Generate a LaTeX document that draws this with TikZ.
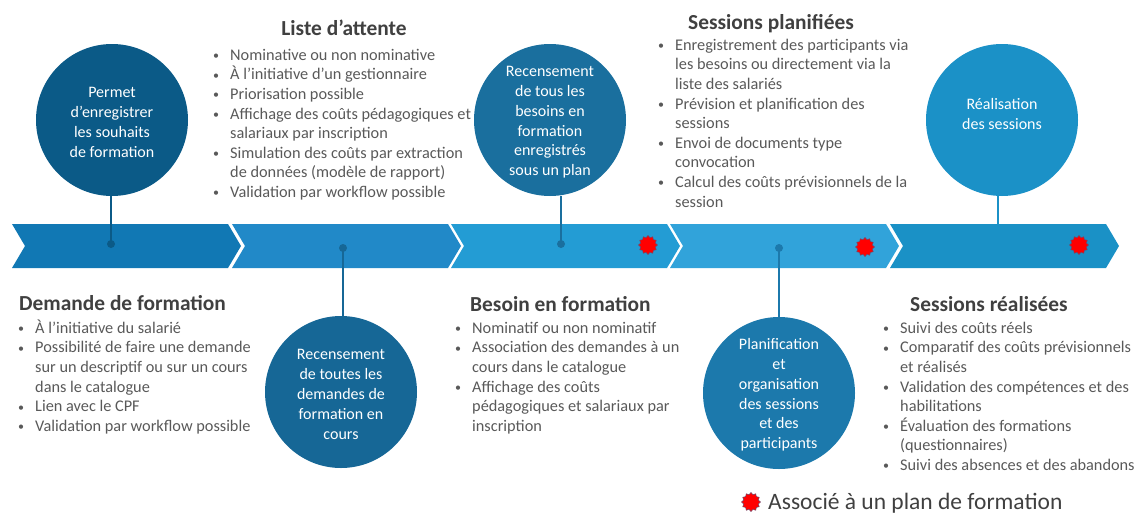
\documentclass[tikz,border=0pt]{standalone}
\usepackage{fontspec}
\setmainfont{Carlito}
\usetikzlibrary{positioning, shapes.geometric}

\definecolor{cSEGa}{HTML}{1178B4}
\definecolor{cSEGb}{HTML}{2189C8}
\definecolor{cSEGc}{HTML}{239CD4}
\definecolor{cSEGd}{HTML}{31A3DA}
\definecolor{cSEGe}{HTML}{1A91C6}
\definecolor{cBUBa}{HTML}{0B5A87}
\definecolor{cBUBb}{HTML}{166796}
\definecolor{cBUBc}{HTML}{1A6F9E}
\definecolor{cBUBd}{HTML}{1C79AC}
\definecolor{cBUBe}{HTML}{1B91C7}
\definecolor{cHEAD}{HTML}{404040}
\definecolor{cBODY}{HTML}{595959}
\definecolor{cPLAN}{HTML}{FF0000}

\newcommand{\itm}{\strut\makebox[17pt][l]{\raisebox{0.5pt}{\fontsize{12}{12}\selectfont\textbullet}}}
\newcommand{\cnt}{\strut\hspace*{17pt}}
\newcommand{\bubtop}{\rule{0pt}{15pt}}

\begin{document}
\begin{tikzpicture}[x=1pt, y=-1pt,
  head/.style={font=\fontsize{21.4}{24}\selectfont\bfseries, text=cHEAD, inner sep=0pt},
  body/.style={font=\fontsize{16.3}{19.6}\selectfont, text=cBODY, align=left,
    inner sep=0pt, anchor=north west},
  bubble/.style={circle, minimum size=152pt, inner sep=0pt, align=center, text=white,
    font=\fontsize{16}{19.8}\selectfont},
  link/.style={line width=1.6pt},
  plan/.style={star, star points=12, star point ratio=1.25, minimum size=19pt,
    inner sep=0pt, fill=cPLAN, draw=cSEGa!60!cPLAN, line width=0.5pt}]
  \useasboundingbox (0,0) rectangle (1136,515);

  % Timeline band
  \foreach \x/\c in {12/cSEGa, 232/cSEGb, 451/cSEGc, 670/cSEGd, 890/cSEGe}
    \fill[\c] (\x,224) -- ++(216,0) -- ++(13,22) -- ++(-13,22) -- ++(-216,0) -- ++(13,-22) -- cycle;

  % Text blocks
  \node[head, anchor=base] (attente) at (344,35) {Liste d’attente};
  \node[body] (attenteList) at (213,46.3) {\itm Nominative ou non nominative\\
    \itm À l’initiative d’un gestionnaire\\
    \itm Priorisation possible\\
    \itm Affichage des coûts pédagogiques et\\
    \cnt salariaux par inscription\\
    \itm Simulation des coûts par extraction\\
    \cnt de données (modèle de rapport)\\
    \itm Validation par workflow possible};

  \node[head, anchor=base] (planif) at (771,29) {Sessions planifiées};
  \node[body] (planifList) at (658,36.3) {\itm Enregistrement des participants via\\
    \cnt les besoins ou directement via la\\
    \cnt liste des salariés\\
    \itm Prévision et planification des\\
    \cnt sessions\\
    \itm Envoi de documents type\\
    \cnt convocation\\
    \itm Calcul des coûts prévisionnels de la\\
    \cnt session};

  \node[head, anchor=base west] (demande) at (19,310) {Demande de formation};
  \node[body] (demandeList) at (18,319.3) {\itm À l’initiative du salarié\\
    \itm Possibilité de faire une demande\\
    \cnt sur un descriptif ou sur un cours\\
    \cnt dans le catalogue\\
    \itm Lien avec le CPF\\
    \itm Validation par workflow possible};

  \node[head, anchor=base west] (besoin) at (470,311) {Besoin en formation};
  \node[body] (besoinList) at (455,319.3) {\itm Nominatif ou non nominatif\\
    \itm Association des demandes à un\\
    \cnt cours dans le catalogue\\
    \itm Affichage des coûts\\
    \cnt pédagogiques et salariaux par\\
    \cnt inscription};

  \node[head, anchor=base west] (realise) at (910,311) {Sessions réalisées};
  \node[body] (realiseList) at (883,319.3) {\itm Suivi des coûts réels\\
    \itm Comparatif des coûts prévisionnels\\
    \cnt et réalisés\\
    \itm Validation des compétences et des\\
    \cnt habilitations\\
    \itm Évaluation des formations\\
    \cnt (questionnaires)\\
    \itm Suivi des absences et des abandons};

  % Bubbles
  \node[bubble, fill=cBUBa] (c1) at (112,120) {\bubtop Permet\\d’enregistrer\\les souhaits\\de formation};
  \node[bubble, fill=cBUBb] (c2) at (341,392) {\bubtop Recensement\\de toutes les\\demandes de\\formation en\\cours};
  \node[bubble, fill=cBUBc] (c3) at (550,120) {\bubtop Recensement\\de tous les\\besoins en\\formation\\enregistrés\\sous un plan};
  \node[bubble, fill=cBUBd] (c4) at (779,393) {\bubtop Planification\\et\\organisation\\des sessions\\et des\\participants};
  \node[bubble, fill=cBUBe] (c5) at (1002,120) {Réalisation\\des sessions\rule[-12pt]{0pt}{12pt}};

  % Connectors
  \coordinate (d1) at (111,244);
  \coordinate (d2) at (343,248);
  \coordinate (d3) at (561,244);
  \coordinate (d4) at (779,248);
  \coordinate (t5) at (998,224);
  \draw[link, cBUBa] (d1) -- (d1 |- c1.south);
  \draw[link, cBUBb] (d2) -- (d2 |- c2.north);
  \draw[link, cBUBc] (d3) -- (d3 |- c3.south);
  \draw[link, cBUBd] (d4) -- (c4.north);
  \draw[link, cBUBe] (t5) -- (t5 |- c5.south);
  \foreach \d/\c in {d1/cBUBa, d2/cBUBb, d3/cBUBc, d4/cBUBd}
    \fill[\c] (\d) circle (4);

  % Plan markers
  \node[plan] (p3) at (648,245) {};
  \node[plan] (p4) at (865,247) {};
  \node[plan] (p5) at (1079,245) {};

  % Legend
  \node[plan] (key) at (751,502) {};
  \node[anchor=base west, inner sep=0pt, font=\fontsize{23.5}{26}\selectfont, text=cHEAD]
    (keyText) at (768,509) {Associé à un plan de formation};
\end{tikzpicture}
\end{document}
